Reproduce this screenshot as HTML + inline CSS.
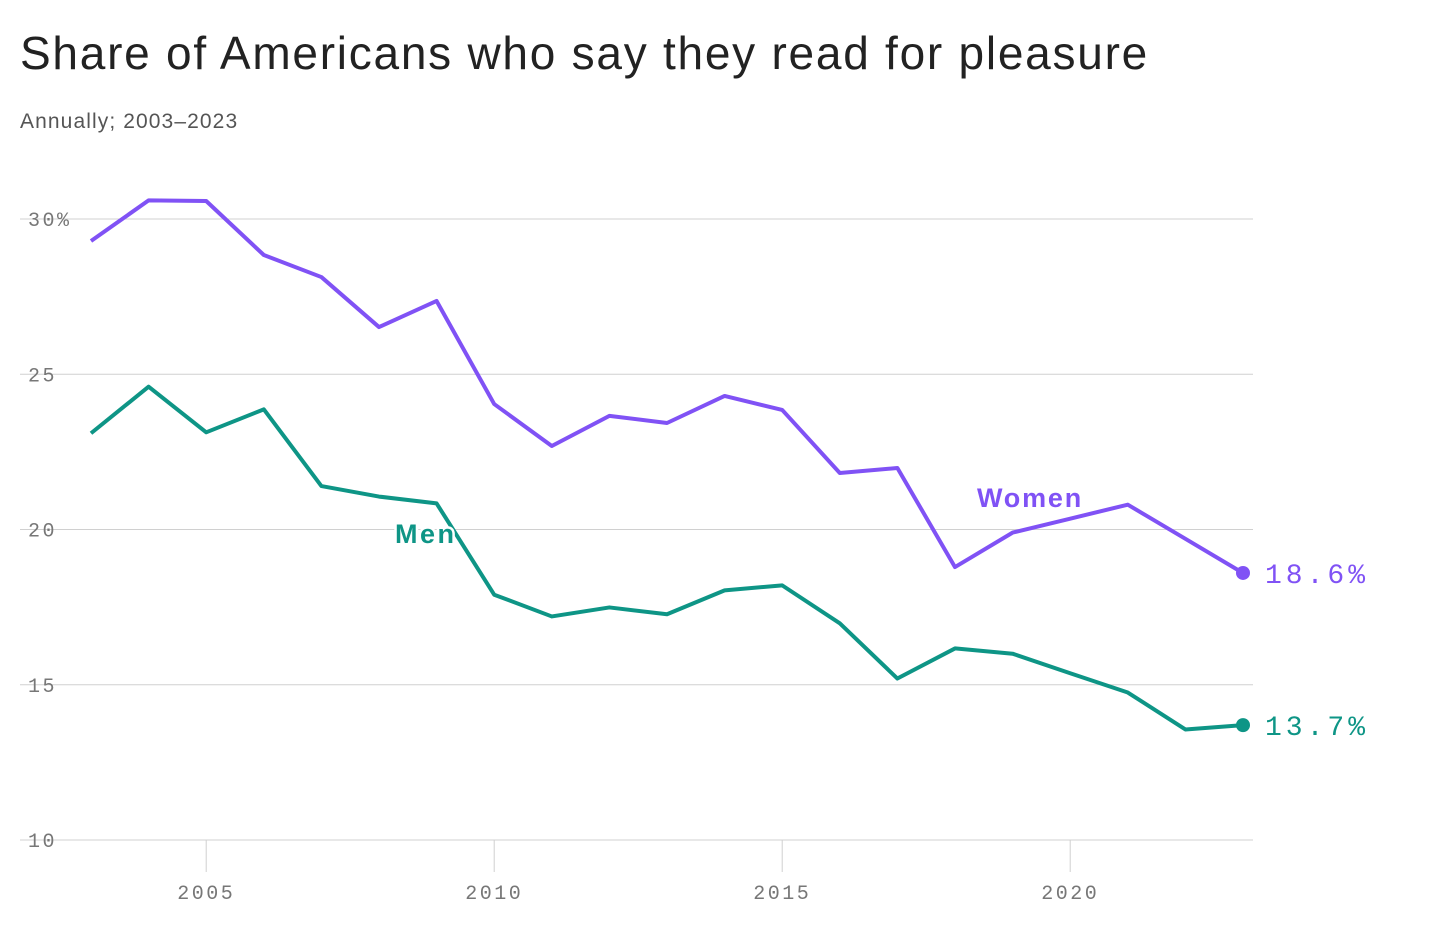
<!DOCTYPE html>
<html><head><meta charset="utf-8"><style>
body{margin:0;background:#fff;width:1456px;height:952px;overflow:hidden;font-family:"Liberation Sans",sans-serif}
#title{position:absolute;left:20px;top:26px;font-size:46px;color:#222;letter-spacing:1.75px}
#sub{position:absolute;left:20px;top:110px;font-size:21px;color:#555;letter-spacing:1.1px}
svg{position:absolute;left:0;top:0}
</style></head><body>
<div id="title">Share of Americans who say they read for pleasure</div>
<div id="sub">Annually; 2003–2023</div>
<svg id="c" width="1456" height="952"></svg>
<script>
const years=[2003,2004,2005,2006,2007,2008,2009,2010,2011,2012,2013,2014,2015,2016,2017,2018,2019,2020,2021,2022,2023];
const women=[29.29,30.6,30.58,28.84,28.13,26.52,27.36,24.04,22.69,23.66,23.43,24.3,23.85,21.82,21.98,18.79,19.9,20.35,20.8,19.7,18.6];
const men=[23.1,24.6,23.13,23.87,21.4,21.06,20.84,17.9,17.2,17.49,17.27,18.04,18.2,16.98,15.2,16.17,16.0,15.37,14.75,13.56,13.7];
const yTicks=[10,15,20,25,30];
const xTicks=[2005,2010,2015,2020];
const x=v=>91+(v-2003)*57.6;
const y=v=>840-(v-10)*31.05;
const svg=document.getElementById('c');
const NS='http://www.w3.org/2000/svg';
function mk(t,a,txt){const e=document.createElementNS(NS,t);for(const k in a)e.setAttribute(k,a[k]);if(txt!=null)e.textContent=txt;svg.appendChild(e);return e;}
const mono='"Liberation Mono",monospace';
yTicks.forEach(t=>{
 const g=mk('line',{x1:20,x2:1253,y1:y(t),y2:y(t),stroke:'#d0d0d0','stroke-width':1});
 
 
 const l=mk('text',{x:28,y:y(t)+7,'font-family':mono,'font-size':20,fill:'#777','letter-spacing':2.5},t===30?'30%':String(t));
 
 
});
xTicks.forEach(t=>{
 const g=mk('line',{x1:x(t),x2:x(t),y1:840,y2:872,stroke:'#d0d0d0','stroke-width':1});
 
 
 const l=mk('text',{x:x(t),y:899,'font-family':mono,'font-size':20,fill:'#777','text-anchor':'middle','letter-spacing':2.5},String(t));
 
 
});
function series(vals,color,name,lab,lx,ly,ls){
 const p=mk('polyline',{points:vals.map((v,i)=>x(years[i])+','+y(v)).join(' '),fill:'none',stroke:color,'stroke-width':4,'stroke-linejoin':'round'});
 
 
 const last=vals[vals.length-1];
 const d=mk('circle',{cx:x(years[years.length-1]),cy:y(last),r:7,fill:color});
 
 
 const v=mk('text',{x:x(years[years.length-1])+22,y:y(last)+10,'font-family':mono,'font-size':28,fill:color,'letter-spacing':4},last.toFixed(1)+'%');
 
 
 const t=mk('text',{x:lx,y:ly,'font-family':'"Liberation Sans",sans-serif','font-size':27,'font-weight':'bold',fill:color,stroke:'#fff','stroke-width':5,'paint-order':'stroke','letter-spacing':ls},lab);
 
 
}
series(women,'#8052f5','women','Women',977,507,1.8);
series(men,'#0e9586','men','Men',395,543,2.5);
</script>
</body></html>
